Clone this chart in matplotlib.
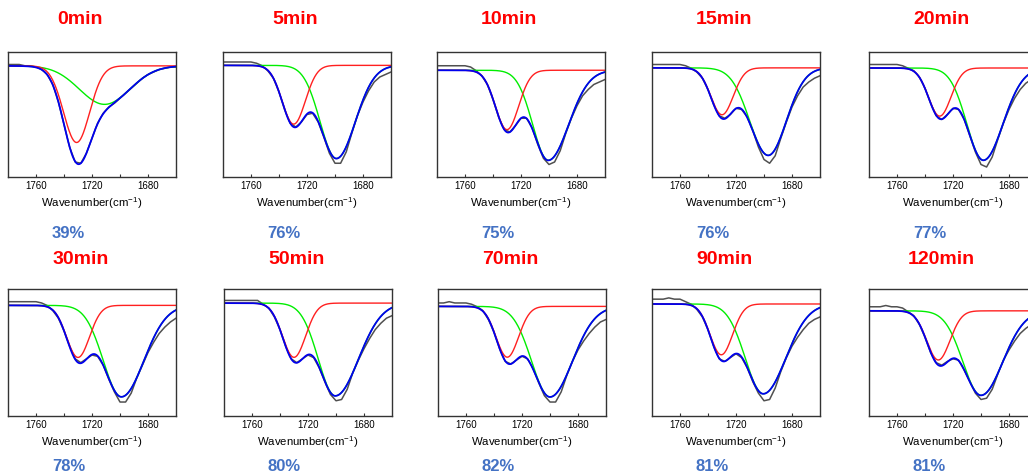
import numpy as np
import matplotlib
matplotlib.use('Agg')
import matplotlib.pyplot as plt

plt.rcParams['font.family'] = ['Liberation Sans', 'DejaVu Sans']
plt.rcParams['mathtext.fontset'] = 'custom'
plt.rcParams['mathtext.rm'] = 'Liberation Sans'

times = ['0min', '5min', '10min', '15min', '20min', '30min', '50min', '70min', '90min', '120min']
percents = ['39%', '76%', '75%', '76%', '77%', '78%', '80%', '82%', '81%', '81%']

# fitted bands per panel (y in % of frame height, baseline at top)
baseline = [88.9, 89.3, 85.4, 87.3, 87.2, 87.1, 88.9, 86.3, 88.2, 82.8]
red_center = [1731, 1729.5, 1730, 1730, 1729.5, 1730, 1730, 1730.5, 1730.5, 1730.5]
red_width = [9.3, 8.3, 8.3, 8.0, 8.0, 8.2, 8.3, 8.0, 8.0, 8.3]
red_depth = [61.3, 47.0, 47.5, 37.5, 38.5, 41.0, 42.7, 40.0, 40.0, 38.7]
green_center = [1711, 1699, 1700.5, 1697, 1698.3, 1699, 1700.5, 1700, 1700.5, 1700]
green_width_hi = [18, 11.6, 11.1, 13.2, 11.8, 12.9, 12.1, 13.1, 12.8, 12.9]
green_width_lo = [18, 13.5, 14.5, 13, 14, 16, 16.5, 16, 16, 15.5]
green_depth = [30.8, 74.5, 72.0, 70.0, 73.8, 72.0, 73.0, 71.3, 70.7, 66.5]

# measured spectra, every 4 cm-1 from 1780 down to 1660
measured_wn = list(range(1780, 1659, -4))
measured = [
    [90, 90, 90, 89, 89, 88, 86, 82, 74, 60, 42, 24, 12, 11, 19, 31, 43, 51, 56, 59, 63, 67, 71, 75, 79, 82, 84, 86, 87, 88, 88],
    [92, 92, 92, 92, 92, 92, 91, 89, 85, 79, 68, 54, 43, 40, 44, 50, 51, 44, 32, 19, 11, 11, 20, 35, 49, 60, 69, 76, 80, 82, 84],
    [89, 89, 89, 89, 89, 89, 88, 85, 81, 74, 62, 48, 38, 36, 41, 47, 47, 39, 26, 15, 10, 12, 21, 35, 47, 57, 65, 70, 74, 76, 78],
    [90, 90, 90, 90, 90, 90, 89, 87, 84, 79, 70, 58, 49, 47, 50, 55, 54, 48, 37, 24, 14, 11, 17, 31, 44, 56, 65, 72, 76, 79, 81],
    [90, 90, 90, 90, 90, 90, 89, 87, 85, 80, 71, 59, 49, 46, 50, 55, 54, 46, 33, 20, 10, 8, 16, 30, 43, 54, 63, 70, 75, 78, 79],
    [90, 90, 90, 90, 90, 90, 89, 87, 83, 77, 67, 55, 45, 42, 45, 48, 47, 40, 29, 19, 11, 11, 18, 30, 40, 50, 58, 65, 70, 74, 77],
    [91, 91, 91, 91, 91, 91, 91, 88, 85, 78, 68, 55, 45, 42, 45, 48, 46, 38, 27, 17, 12, 13, 21, 34, 44, 53, 61, 68, 73, 77, 79],
    [89, 89, 90, 89, 89, 89, 88, 86, 83, 76, 66, 53, 43, 41, 44, 47, 45, 37, 26, 16, 11, 11, 19, 32, 43, 52, 59, 65, 70, 74, 76],
    [92, 92, 92, 93, 92, 92, 90, 88, 84, 78, 68, 55, 45, 43, 46, 49, 46, 38, 27, 18, 12, 13, 22, 35, 46, 55, 62, 68, 73, 76, 78],
    [86, 86, 86, 87, 86, 86, 85, 82, 79, 72, 62, 50, 42, 40, 43, 45, 44, 36, 27, 18, 13, 14, 21, 33, 44, 52, 59, 65, 69, 72, 74],
]

wn = np.linspace(1780, 1660, 400)


def red_band(x, i):
    return red_depth[i] * np.exp(-(x - red_center[i]) ** 2 / (2 * red_width[i] ** 2))


def green_band(x, i):
    s = np.where(x > green_center[i], green_width_hi[i], green_width_lo[i])
    return green_depth[i] * np.exp(-(x - green_center[i]) ** 2 / (2 * s ** 2))


lefts = [[8, 223, 437, 652, 869], [8, 224, 438, 652, 869]]
tops = [52, 289]
heights = [125, 127]

fig = plt.figure(figsize=(10.28, 4.74), dpi=100)
for i in range(10):
    r, c = divmod(i, 5)
    ax = fig.add_axes([lefts[r][c] / 1028, 1 - (tops[r] + heights[r]) / 474,
                       168 / 1028, heights[r] / 474])
    red = baseline[i] - red_band(wn, i)
    green = baseline[i] - green_band(wn, i)
    blue = baseline[i] - red_band(wn, i) - green_band(wn, i)

    ax.plot(measured_wn, measured[i], color='#505050', lw=1.1)
    ax.plot(wn, green, color='#00ee00', lw=1.0)
    ax.plot(wn, red, color='#ff2020', lw=1.0)
    ax.plot(wn, blue, color='#0000ee', lw=1.3)

    ax.set_xlim(1780, 1660)
    ax.set_ylim(0, 100)
    ax.set_yticks([])
    ax.set_xticks([1760, 1720, 1680])
    ax.set_xticks([1740, 1700], minor=True)
    ax.tick_params(axis='x', which='both', direction='in', length=2.5, width=0.8,
                   labelsize=7, pad=3, color='#333333')
    for sp in ax.spines.values():
        sp.set_color('#333333')
        sp.set_linewidth(1.0)
    ax.set_xlabel('Wavenumber(cm$^{-1}$)', fontsize=8.2, labelpad=3)
    ax.text(0.43, 1 + (32 if r == 0 else 29) / heights[r], times[i], transform=ax.transAxes,
            color='red', fontsize=14, fontweight='bold', ha='center', va='center')
    ax.text(0.36, -0.45 if r == 0 else -0.40, percents[i], transform=ax.transAxes,
            color='#4472c4', fontsize=12, fontweight='bold', ha='center', va='center')

fig.savefig('out.png', dpi=100)
